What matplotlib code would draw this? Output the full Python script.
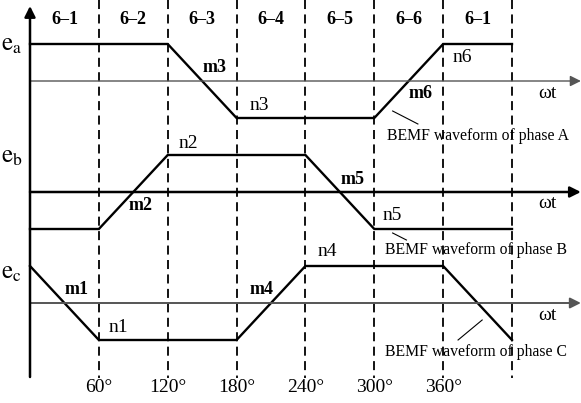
import matplotlib.pyplot as plt

# forma de onda (graus, nivel +1/-1)
graus_a = [0, 120, 180, 300, 360, 420]
nivel_a = [1, 1, -1, -1, 1, 1]
graus_b = [0, 60, 120, 240, 300, 420]
nivel_b = [-1, -1, 1, 1, -1, -1]
graus_c = [0, 60, 180, 240, 360, 420]
nivel_c = [1, -1, -1, 1, 1, -1]

divisoes = [60, 120, 180, 240, 300, 360, 420]
rotulos_graus = ["60°", "120°", "180°", "240°", "300°", "360°"]
setores = ["6–1", "6–2", "6–3", "6–4", "6–5", "6–6", "6–1"]

# rotulos m/n: (texto, graus, y, negrito)
rotulos_mn = [
    ("m3", 161, 68, True), ("n3", 200, 106, False),
    ("n2", 138, 144, False), ("m2", 96, 205, True),
    ("m5", 281, 180, True), ("n5", 316, 215, False),
    ("m6", 340, 94, True), ("n6", 377, 57, False),
    ("m1", 41, 290, True), ("n1", 77, 327, False),
    ("m4", 202, 290, True), ("n4", 259, 252, False),
]

base = {"a": 81, "b": 192, "c": 303}
amp = 37
esc = 482 / 420

plt.rcParams['font.family'] = ['Liberation Serif', 'DejaVu Serif']
plt.rcParams['mathtext.fontset'] = 'stix'

fig = plt.figure(figsize=(5.81, 4.03), dpi=100)
ax = fig.add_axes([0, 0, 1, 1])
ax.set_xlim(-30 / esc, 551 / esc)
ax.set_ylim(403, 0)
ax.axis('off')

# linhas tracejadas
for d in divisoes:
    ax.plot([d, d], [0, 378], color='black', lw=1.3, linestyle=(0, (5, 3)))

# eixos horizontais
estilos = {"a": ('#555555', 1.0), "b": ('black', 1.8), "c": ('#555555', 1.4)}
for k, y0 in base.items():
    cor, lw = estilos[k]
    ax.annotate('', xy=(480, y0), xytext=(0, y0),
                arrowprops=dict(arrowstyle='-|>', color=cor, lw=lw,
                                mutation_scale=16, shrinkA=0, shrinkB=0))
    ax.text(451, y0 + 12, "ωt", fontsize=14, ha='center', va='center')

# eixo vertical
ax.annotate('', xy=(0, 6), xytext=(0, 377),
            arrowprops=dict(arrowstyle='-|>', color='black', lw=1.8,
                            mutation_scale=16, shrinkA=0, shrinkB=0))

# ondas
for k, g, n in [("a", graus_a, nivel_a), ("b", graus_b, nivel_b), ("c", graus_c, nivel_c)]:
    ax.plot(g, [base[k] - amp * v for v in n], color='black', lw=1.7,
            solid_joinstyle='miter')

# textos
for i, s in enumerate(setores):
    ax.text(30 + 60 * i, 20, s, fontsize=13, fontweight='bold', ha='center', va='center')
for d, r in zip(divisoes, rotulos_graus):
    ax.text(d, 388, r, fontsize=14, ha='center', va='center')
for r, d, y, bold in rotulos_mn:
    ax.text(d, y, r, fontsize=13 if bold else 14, fontweight='bold' if bold else 'normal',
            ha='center', va='center')

ax.text(-16, 45, r'$\mathrm{e_a}$', fontsize=18, ha='center', va='center')
ax.text(-16, 157, r'$\mathrm{e_b}$', fontsize=18, ha='center', va='center')
ax.text(-16, 273, r'$\mathrm{e_c}$', fontsize=18, ha='center', va='center')

ax.text(311, 136, "BEMF waveform of phase A", fontsize=11.3, ha='left', va='center')
ax.text(309, 250, "BEMF waveform of phase B", fontsize=11.3, ha='left', va='center')
ax.text(309, 352, "BEMF waveform of phase C", fontsize=11.3, ha='left', va='center')
ax.plot([316, 338], [111, 124], color='black', lw=0.8)
ax.plot([316, 328], [233, 240], color='black', lw=0.8)
ax.plot([394, 373], [320, 340], color='black', lw=0.8)

fig.savefig('out.png', dpi=100)
